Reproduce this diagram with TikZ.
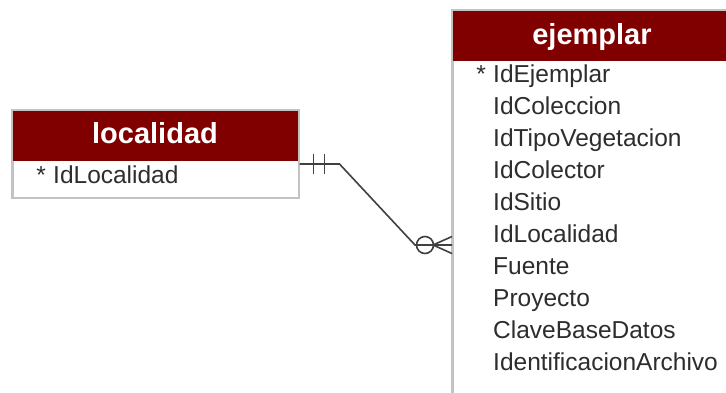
\documentclass[tikz,border=0pt]{standalone}
\usepackage{fontspec}
\setmainfont{Liberation Sans}
\usetikzlibrary{calc}
\definecolor{hdrred}{RGB}{128,0,0}
\definecolor{bordergray}{RGB}{195,195,195}
\definecolor{txtgray}{RGB}{45,45,45}
\definecolor{linegray}{RGB}{64,64,64}
\tikzset{
  entbox/.style={draw=bordergray, line width=1.5pt, fill=white, rectangle, inner sep=0pt, anchor=north west},
  hdrbox/.style={fill=hdrred, draw=none, rectangle, inner sep=0pt, anchor=north west},
  title/.style={text=white, font=\fontsize{29}{32}\selectfont\bfseries, anchor=base, inner sep=0pt},
  attr/.style={text=txtgray, font=\fontsize{24.5}{28}\selectfont, anchor=base west, inner sep=0pt},
  star/.style={text=txtgray, font=\fontsize{24.5}{28}\selectfont, anchor=base east, inner sep=0pt},
  rel/.style={draw=linegray, line width=1.6pt},
}
\begin{document}
\begin{tikzpicture}[x=1pt,y=-1pt]
\clip (0,0) rectangle (726,392);
\fill[white] (0,0) rectangle (726,392);
% localidad
\node[entbox, minimum width=286pt, minimum height=87pt] (loc) at (12,110) {};
\node[hdrbox, minimum width=286pt, minimum height=51pt] (lochdr) at (loc.north west) {};
\draw[bordergray, line width=1.5pt] (loc.north west) rectangle (loc.south east);
\node[title] (loctitle) at (155,143) {localidad};
\node[star] (locs1) at (46,183) {*};
\node[attr] (loca1) at (53,183) {IdLocalidad};
% ejemplar
\node[entbox, minimum width=282pt, minimum height=400pt] (ej) at (452,10) {};
\node[hdrbox, minimum width=282pt, minimum height=51pt] (ejhdr) at (ej.north west) {};
\draw[bordergray, line width=1.5pt] (ej.north west) rectangle (ej.south east);
\node[title] (ejtitle) at (592,44) {ejemplar};
\node[star] (ejs1) at (486,82) {*};
\foreach \t [count=\i from 0] in {IdEjemplar,IdColeccion,IdTipoVegetacion,IdColector,IdSitio,IdLocalidad,Fuente,Proyecto,ClaveBaseDatos,IdentificacionArchivo}{
  \node[attr] (eja\i) at (493,82+32*\i) {\t};
}
% relationship
\coordinate (r0) at ($(loc.north east)+(0,54)$);
\coordinate (r1) at ($(r0)+(40,0)$);
\coordinate (r3) at ($(ej.north west)+(0,235)$);
\coordinate (r2) at ($(r3)+(-37,0)$);
\draw[rel] (r0) -- (r1) -- (r2) -- (r3);
% one-and-only-one bars
\draw[rel] ($(r0)+(14,-10)$) -- ($(r0)+(14,10)$);
\draw[rel] ($(r0)+(25,-10)$) -- ($(r0)+(25,10)$);
% zero-or-many
\draw[rel] ($(r3)+(-27,0)$) circle (8.5);
\draw[rel] ($(r3)+(-19,0)$) -- ($(r3)+(0,-8.5)$);
\draw[rel] ($(r3)+(-19,0)$) -- ($(r3)+(0,8.5)$);
\end{tikzpicture}
\end{document}
